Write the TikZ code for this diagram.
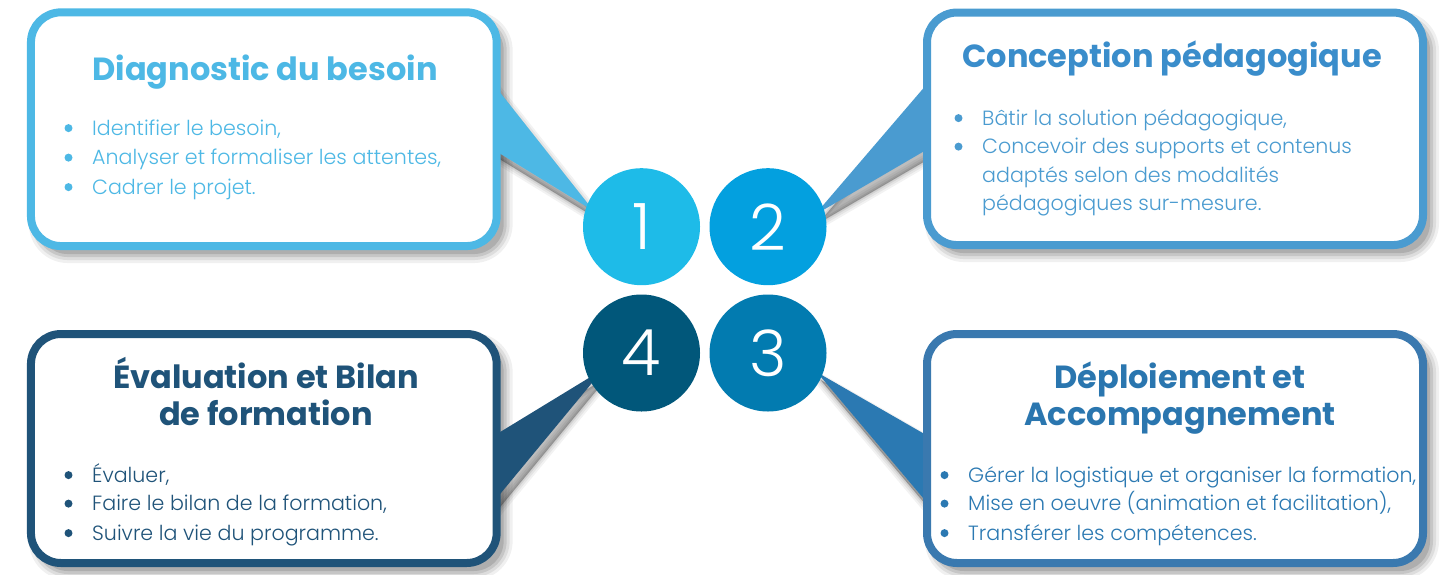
\documentclass[tikz,border=0pt]{standalone}
\usepackage{fontspec}
\setmainfont{Poppins}
\newfontfamily\lightfont{Poppins Light}
\usetikzlibrary{calc}
\pgfdeclarelayer{shadowlayer}
\pgfdeclarelayer{taillayer}
\pgfsetlayers{shadowlayer,taillayer,main}
\definecolor{cA}{HTML}{4DB8E5}
\definecolor{cB}{HTML}{4A9BD0}
\definecolor{cC}{HTML}{3A79AF}
\definecolor{cCt}{HTML}{2B79B2}
\definecolor{cD}{HTML}{1F5379}
\definecolor{tB}{HTML}{3A8DCB}
\definecolor{tC}{HTML}{2A76AF}
\definecolor{kA}{HTML}{1EBBE8}
\definecolor{kB}{HTML}{03A0DF}
\definecolor{kC}{HTML}{027BB0}
\definecolor{kD}{HTML}{01577A}
\newcommand\boxshadow[1]{%
  \foreach \w/\o in {9/0.06,6/0.08,3/0.10,0/0.12}{%
    \pgfmathsetmacro\rr{30+\w}%
    \fill[black, opacity=\o, rounded corners=\rr pt]
      ($(#1.north west)+(7-\w,8-\w)$) rectangle ($(#1.south east)+(7+\w,8+\w)$);
  }}
\newcommand\tailshadow[3]{%
  \foreach \w/\o in {12/0.05,8/0.06,4/0.08,1/0.10}{%
    \filldraw[black, opacity=\o, line width=\w pt, line join=round]
      ($(#1)+(4,8)$) -- ($(#2)+(4,8)$) -- ($(#3)+(4,8)$) -- cycle;
  }}
\newcommand\bitem[4]{%
  \fill (#2-23.5,#3-6.9) circle[radius=4];
  \node[bodytxt, anchor=base west] (#1) at (#2,#3) {#4};}
\begin{document}
\begin{tikzpicture}[x=1pt,y=-1pt,
  panel/.style={rectangle, rounded corners=30pt, line width=8pt, fill=white, outer sep=0pt, inner sep=0pt},
  disc/.style={circle, minimum size=117pt, inner sep=0pt, outer sep=0pt, text=white, font=\lightfont\fontsize{64}{64}\selectfont},
  ttl/.style={anchor=base, font=\bfseries\fontsize{32}{36}\selectfont, inner sep=0pt},
  bodytxt/.style={font=\lightfont\fontsize{20.6}{24}\selectfont, inner sep=0pt},
]
\useasboundingbox (0,0) rectangle (1445,574);

% panels
\node[panel, draw=cA, minimum width=465.7pt, minimum height=233.7pt] (b1) at (263.8,129.2) {};
\node[panel, draw=cB, minimum width=496pt, minimum height=232.5pt] (b2) at (1175,128.8) {};
\node[panel, draw=cC, minimum width=496pt, minimum height=229pt] (b3) at (1175,448.5) {};
\node[panel, draw=cD, minimum width=465.7pt, minimum height=229pt] (b4) at (263.8,448.5) {};

% circles
\node[disc, fill=kA] (c1) at (641.5,226.7) {1};
\node[disc, fill=kB] (c2) at (768,226.7) {2};
\node[disc, fill=kC] (c3) at (768,353) {3};
\node[disc, fill=kD] (c4) at (641.5,353) {4};

% tail coordinates
\coordinate (t1a) at (480,67.1);  \coordinate (t1c) at (593.7,211); \coordinate (t1b) at (480,141.3);
\coordinate (t2a) at (945,63);    \coordinate (t2c) at (814.7,215); \coordinate (t2b) at (945,139);
\coordinate (t3a) at (945,445.8); \coordinate (t3c) at (817,372.3); \coordinate (t3b) at (945,524);
\coordinate (t4a) at (480,444.3); \coordinate (t4c) at (603.5,369); \coordinate (t4b) at (480,518.3);

\begin{pgfonlayer}{shadowlayer}
  \boxshadow{b1}\boxshadow{b2}\boxshadow{b3}\boxshadow{b4}
  \tailshadow{t1a}{t1c}{t1b}
  \tailshadow{t2a}{t2c}{t2b}
  \tailshadow{t3a}{t3c}{t3b}
  \tailshadow{t4a}{t4c}{t4b}
\end{pgfonlayer}
\begin{pgfonlayer}{taillayer}
  \fill[cA] (t1a) -- (t1c) -- (t1b) -- cycle;
  \fill[cB] (t2a) -- (t2c) -- (t2b) -- cycle;
  \fill[cCt] (t3a) -- (t3c) -- (t3b) -- cycle;
  \fill[cD] (t4a) -- (t4c) -- (t4b) -- cycle;
\end{pgfonlayer}

% box 1
\node[ttl, text=cA] (h1) at (265,80) {Diagnostic du besoin};
\begin{scope}[color=cA]
  \bitem{p11}{92}{135}{Identifier le besoin,}
  \bitem{p12}{92}{164.5}{Analyser et formaliser les attentes,}
  \bitem{p13}{92}{194}{Cadrer le projet.}
\end{scope}

% box 2
\node[ttl, text=tB] (h2) at (1172,67) {Conception pédagogique};
\begin{scope}[color=cB]
  \bitem{p21}{982}{125}{Bâtir la solution pédagogique,}
  \bitem{p22}{982}{153.5}{Concevoir des supports et contenus}
  \node[bodytxt, anchor=base west] (p23) at (982,182) {adaptés selon des modalités};
  \node[bodytxt, anchor=base west] (p24) at (982,210.5) {pédagogiques sur-mesure.};
\end{scope}

% box 3
\node[ttl, text=tC] (h3a) at (1180,388) {Déploiement et};
\node[ttl, text=tC] (h3b) at (1180,425) {Accompagnement};
\begin{scope}[color=cCt]
  \bitem{p31}{968}{482}{Gérer la logistique et organiser la formation,}
  \bitem{p32}{968}{510.5}{Mise en oeuvre (animation et facilitation),}
  \bitem{p33}{968}{540}{Transférer les compétences.}
\end{scope}

% box 4
\node[ttl, text=cD] (h4a) at (266,388) {Évaluation et Bilan};
\node[ttl, text=cD] (h4b) at (266,425) {de formation};
\begin{scope}[color=cD]
  \bitem{p41}{92}{482}{Évaluer,}
  \bitem{p42}{92}{510.5}{Faire le bilan de la formation,}
  \bitem{p43}{92}{540}{Suivre la vie du programme.}
\end{scope}
\end{tikzpicture}
\end{document}
